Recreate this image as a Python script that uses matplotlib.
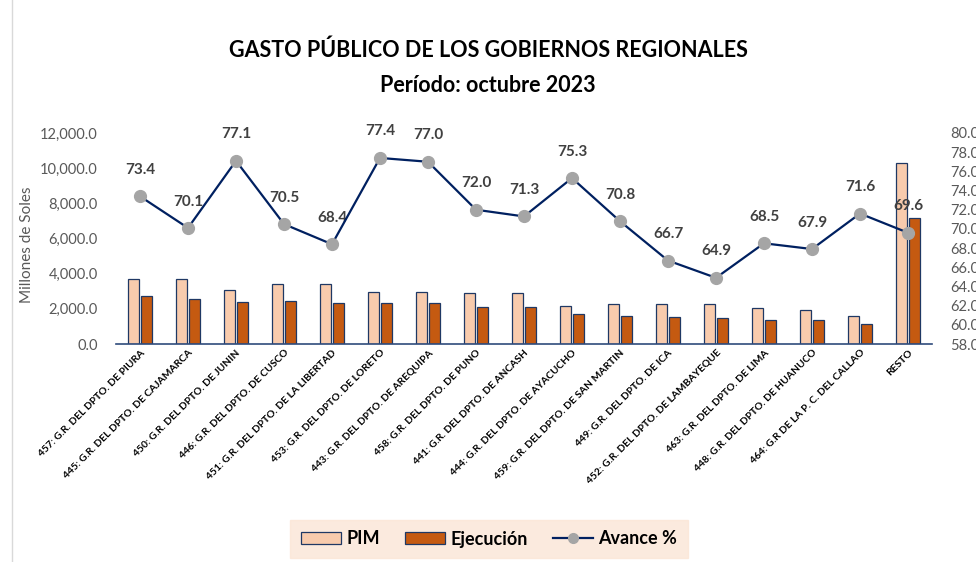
import matplotlib.pyplot as plt
import numpy as np
from matplotlib.ticker import FuncFormatter, MultipleLocator
from matplotlib.patches import Patch
from matplotlib.lines import Line2D

plt.rcParams['font.family'] = ['Lato', 'DejaVu Sans']

# Data (millones de soles, %)
regiones = [
    '457: G.R. DEL DPTO. DE PIURA', '445: G.R. DEL DPTO. DE CAJAMARCA',
    '450: G.R. DEL DPTO. DE JUNIN', '446: G.R. DEL DPTO. DE CUSCO',
    '451: G.R. DEL DPTO. DE LA LIBERTAD', '453: G.R. DEL DPTO. DE LORETO',
    '443: G.R. DEL DPTO. DE AREQUIPA', '458: G.R. DEL DPTO. DE PUNO',
    '441: G.R. DEL DPTO. DE ANCASH', '444: G.R. DEL DPTO. DE AYACUCHO',
    '459: G.R. DEL DPTO. DE SAN MARTIN', '449: G.R. DEL DPTO. DE ICA',
    '452: G.R. DEL DPTO. DE LAMBAYEQUE', '463: G.R. DEL DPTO. DE LIMA',
    '448: G.R. DEL DPTO. DE HUANUCO', '464: G.R DE LA P. C. DEL CALLAO',
    'RESTO',
]
pim = [3700, 3700, 3050, 3400, 3400, 2980, 2980, 2900, 2900,
       2160, 2250, 2250, 2250, 2030, 1930, 1610, 10310]
ejecucion = [2710, 2570, 2400, 2420, 2330, 2320, 2320, 2090, 2090,
             1690, 1590, 1520, 1460, 1380, 1360, 1120, 7170]
avance = [73.4, 70.1, 77.1, 70.5, 68.4, 77.4, 77.0, 72.0, 71.3,
          75.3, 70.8, 66.7, 64.9, 68.5, 67.9, 71.6, 69.6]

PIM_COLOR = '#F8CBAD'
EJE_COLOR = '#C55A11'
EDGE = '#1F3864'
LINE = '#002060'
MARK = '#A5A5A5'
TXT = '#595959'

fig = plt.figure(figsize=(9.76, 5.62), dpi=100)
ax = fig.add_axes([116 / 976, 1 - 344 / 562, (932 - 116) / 976, (344 - 133) / 562])

x = np.arange(len(regiones))
w = 0.23
ax.bar(x - 0.145, pim, w, color=PIM_COLOR, edgecolor=EDGE, linewidth=0.9)
ax.bar(x + 0.145, ejecucion, w, color=EJE_COLOR, edgecolor=EDGE, linewidth=0.9)
ax.set_xlim(-0.5, len(regiones) - 0.5)
ax.set_ylim(0, 12000)
ax.yaxis.set_major_locator(MultipleLocator(2000))
ax.yaxis.set_major_formatter(FuncFormatter(lambda v, p: f'{v:,.1f}'))
ax.tick_params(axis='y', length=0, labelsize=10.5, labelcolor=TXT, pad=13)
ax.tick_params(axis='x', length=0, pad=3)
ax.set_xticks(x)
ax.set_xticklabels(regiones, rotation=45, ha='right', rotation_mode='anchor',
                   fontsize=7.4, fontweight='bold', color='#000000')
for s in ['top', 'right', 'left']:
    ax.spines[s].set_visible(False)
ax.spines['bottom'].set_color('#2F4B7C')
ax.spines['bottom'].set_linewidth(1.2)
ax.set_ylabel('Millones de Soles', fontsize=11, color=TXT, labelpad=4)
ax.yaxis.set_label_coords(-82 / 816, 0.47)

ax2 = ax.twinx()
ax2.plot(x, avance, color=LINE, linewidth=1.6, marker='o', markersize=8.5,
         markerfacecolor=MARK, markeredgecolor=MARK, zorder=5)
ax2.set_ylim(58, 80)
ax2.yaxis.set_major_locator(MultipleLocator(2))
ax2.yaxis.set_major_formatter(FuncFormatter(lambda v, p: f'{v:.1f}'))
ax2.tick_params(axis='y', length=0, labelsize=10.5, labelcolor=TXT, pad=13)
for s in ['top', 'right', 'left', 'bottom']:
    ax2.spines[s].set_visible(False)
for xi, v in zip(x, avance):
    ax2.annotate(f'{v:.1f}', (xi, v), xytext=(0, 14), textcoords='offset points',
                 ha='center', va='bottom', fontsize=11, fontweight='bold', color='#404040')

fig.text(0.5, 1 - 50 / 562, 'GASTO PÚBLICO DE LOS GOBIERNOS REGIONALES', ha='center', va='center',
         fontsize=15.5, fontweight='bold', color='#000000')
fig.text(0.5, 1 - 85 / 562, 'Período: octubre 2023', ha='center', va='center',
         fontsize=15.5, fontweight='bold', color='#000000')

handles = [Patch(facecolor=PIM_COLOR, edgecolor=EDGE, linewidth=0.9),
           Patch(facecolor=EJE_COLOR, edgecolor=EDGE, linewidth=0.9),
           Line2D([0], [0], color=LINE, linewidth=1.6, marker='o', markersize=7,
                  markerfacecolor=MARK, markeredgecolor=MARK)]
leg = fig.legend(handles, ['PIM', 'Ejecución', 'Avance %'], loc='center',
                 bbox_to_anchor=(489 / 976, 1 - 539 / 562), ncol=3, frameon=True,
                 fancybox=False, prop={'size': 13, 'weight': 'bold'},
                 handlelength=2.2, handleheight=0.6, columnspacing=1.4,
                 handletextpad=0.3, borderpad=0.6)
leg.get_frame().set_facecolor('#FBE5D6')
leg.get_frame().set_edgecolor('#FBE5D6')

fig.add_artist(Line2D([12 / 976, 12 / 976], [0, 1], color='#D9D9D9', linewidth=1))

fig.savefig('out.png', dpi=100)
